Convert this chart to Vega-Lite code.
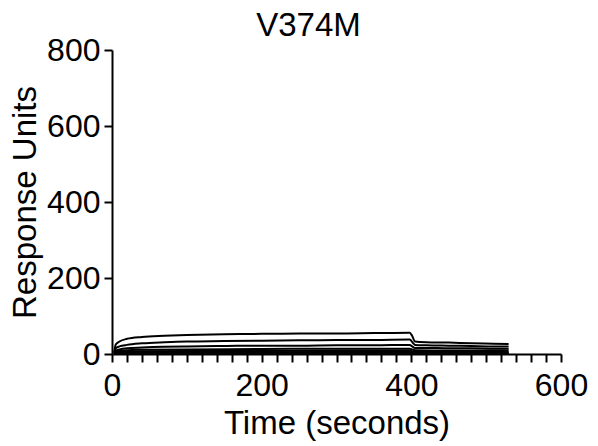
{
  "$schema": "https://vega.github.io/schema/vega-lite/v6.json",
  "width": 449,
  "height": 304,
  "autosize": {"type": "none"},
  "padding": {"left": 112, "top": 50, "right": 37, "bottom": 92},
  "background": "white",
  "config": {"view": {"stroke": null}},
  "title": {"text": "V374M", "font": "Liberation Sans", "fontSize": 33, "fontWeight": "normal", "color": "black", "anchor": "middle", "frame": "group", "offset": 12, "dx": -28, "dy": 21},
  "datasets": {
    "traces": [
      {"trace":"A","t":3,"ru":4},{"trace":"A","t":5,"ru":25},{"trace":"A","t":10,"ru":33},{"trace":"A","t":20,"ru":40},{"trace":"A","t":40,"ru":45},{"trace":"A","t":70,"ru":48},{"trace":"A","t":100,"ru":50},{"trace":"A","t":150,"ru":52},{"trace":"A","t":200,"ru":53},{"trace":"A","t":250,"ru":54},{"trace":"A","t":300,"ru":54},{"trace":"A","t":350,"ru":55},{"trace":"A","t":398,"ru":56},{"trace":"A","t":401,"ru":48},{"trace":"A","t":405,"ru":33},{"trace":"A","t":420,"ru":31},{"trace":"A","t":450,"ru":30},{"trace":"A","t":480,"ru":28},{"trace":"A","t":510,"ru":27},{"trace":"A","t":530,"ru":26},
      {"trace":"B","t":3,"ru":3},{"trace":"B","t":5,"ru":15},{"trace":"B","t":10,"ru":20},{"trace":"B","t":20,"ru":24},{"trace":"B","t":40,"ru":28},{"trace":"B","t":70,"ru":31},{"trace":"B","t":100,"ru":33},{"trace":"B","t":150,"ru":34},{"trace":"B","t":200,"ru":35},{"trace":"B","t":250,"ru":36},{"trace":"B","t":300,"ru":37},{"trace":"B","t":350,"ru":37},{"trace":"B","t":398,"ru":38},{"trace":"B","t":401,"ru":32},{"trace":"B","t":405,"ru":24},{"trace":"B","t":420,"ru":23},{"trace":"B","t":450,"ru":22},{"trace":"B","t":480,"ru":21},{"trace":"B","t":510,"ru":20},{"trace":"B","t":530,"ru":20},
      {"trace":"C","t":3,"ru":2},{"trace":"C","t":5,"ru":9},{"trace":"C","t":10,"ru":12},{"trace":"C","t":20,"ru":15},{"trace":"C","t":40,"ru":17},{"trace":"C","t":70,"ru":19},{"trace":"C","t":100,"ru":20},{"trace":"C","t":150,"ru":21},{"trace":"C","t":200,"ru":22},{"trace":"C","t":250,"ru":22},{"trace":"C","t":300,"ru":23},{"trace":"C","t":350,"ru":23},{"trace":"C","t":398,"ru":24},{"trace":"C","t":401,"ru":20},{"trace":"C","t":405,"ru":16},{"trace":"C","t":420,"ru":16},{"trace":"C","t":450,"ru":15},{"trace":"C","t":480,"ru":15},{"trace":"C","t":510,"ru":14},{"trace":"C","t":530,"ru":14},
      {"trace":"D","t":3,"ru":1},{"trace":"D","t":5,"ru":6},{"trace":"D","t":10,"ru":8},{"trace":"D","t":20,"ru":10},{"trace":"D","t":40,"ru":11},{"trace":"D","t":100,"ru":12},{"trace":"D","t":200,"ru":13},{"trace":"D","t":300,"ru":14},{"trace":"D","t":398,"ru":14},{"trace":"D","t":401,"ru":12},{"trace":"D","t":405,"ru":10},{"trace":"D","t":450,"ru":9},{"trace":"D","t":530,"ru":9},
      {"trace":"E","t":3,"ru":0.5},{"trace":"E","t":5,"ru":3},{"trace":"E","t":10,"ru":5},{"trace":"E","t":20,"ru":6},{"trace":"E","t":40,"ru":7},{"trace":"E","t":100,"ru":8},{"trace":"E","t":200,"ru":8},{"trace":"E","t":300,"ru":9},{"trace":"E","t":398,"ru":9},{"trace":"E","t":401,"ru":7},{"trace":"E","t":405,"ru":6},{"trace":"E","t":450,"ru":6},{"trace":"E","t":530,"ru":5},
      {"trace":"F","t":3,"ru":0.3},{"trace":"F","t":5,"ru":2},{"trace":"F","t":10,"ru":3},{"trace":"F","t":40,"ru":4},{"trace":"F","t":100,"ru":4.5},{"trace":"F","t":300,"ru":5},{"trace":"F","t":398,"ru":5},{"trace":"F","t":405,"ru":3.5},{"trace":"F","t":530,"ru":3},
      {"trace":"G","t":3,"ru":0},{"trace":"G","t":10,"ru":1.5},{"trace":"G","t":100,"ru":2},{"trace":"G","t":398,"ru":2.5},{"trace":"G","t":405,"ru":1.5},{"trace":"G","t":530,"ru":1.5},
      {"trace":"H","t":3,"ru":0},{"trace":"H","t":100,"ru":0.5},{"trace":"H","t":398,"ru":0.7},{"trace":"H","t":405,"ru":0.3},{"trace":"H","t":530,"ru":0.3}
    ]
  },
  "data": {"name": "traces"},
  "mark": {"type": "line", "color": "black", "strokeWidth": 2, "interpolate": "monotone"},
  "encoding": {
    "detail": {"field": "trace", "type": "nominal"},
    "x": {
      "field": "t", "type": "quantitative",
      "scale": {"domain": [0, 600], "nice": false, "zero": true},
      "axis": {
        "title": "Time (seconds)",
        "values": [0,20,40,60,80,100,120,140,160,180,200,220,240,260,280,300,320,340,360,380,400,420,440,460,480,500,520,540,560,580,600],
        "labelExpr": "datum.value % 200 === 0 ? datum.label : ''",
        "labelOverlap": false,
        "labelFlush": false,
        "grid": false,
        "domainColor": "black", "domainWidth": 2,
        "tickColor": "black", "tickWidth": 2, "tickSize": 8,
        "labelFont": "Liberation Sans", "labelFontSize": 32, "labelColor": "black", "labelPadding": 8,
        "titleFont": "Liberation Sans", "titleFontSize": 33, "titleFontWeight": "normal", "titleColor": "black", "titlePadding": 6
      }
    },
    "y": {
      "field": "ru", "type": "quantitative",
      "scale": {"domain": [0, 800], "nice": false},
      "axis": {
        "title": "Response Units",
        "values": [0, 200, 400, 600, 800],
        "grid": false,
        "labelFlush": false,
        "labelOverlap": false,
        "domainColor": "black", "domainWidth": 2,
        "tickColor": "black", "tickWidth": 2, "tickSize": 8,
        "labelFont": "Liberation Sans", "labelFontSize": 32, "labelColor": "black", "labelPadding": 4,
        "titleFont": "Liberation Sans", "titleFontSize": 33, "titleFontWeight": "normal", "titleColor": "black", "titlePadding": 4
      }
    }
  }
}
